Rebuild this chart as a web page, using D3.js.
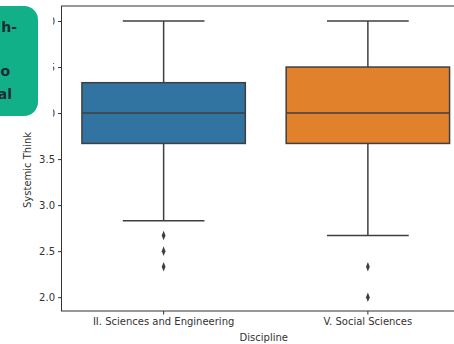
<!DOCTYPE html>
<html><head><meta charset="utf-8">
<script src="https://cdn.jsdelivr.net/npm/d3@7"></script>
<style>body{margin:0;background:#fff}svg{display:block}text{font-family:"DejaVu Sans",sans-serif}</style>
</head><body><svg id="c" width="454" height="344"></svg>
<script>
const categories = ["II. Sciences and Engineering", "V. Social Sciences"];
const q1 = [3.67, 3.67];
const median = [4.0, 4.0];
const q3 = [4.33, 4.5];
const whiskerLow = [2.83, 2.67];
const whiskerHigh = [5.0, 5.0];
const outliers = [[2.67, 2.5, 2.33], [2.33, 2.0]];
const yTicks = [2.0, 2.5, 3.0, 3.5, 4.0, 4.5, 5.0];
const colors = ["#3274a1", "#e1812c"];

(function () {
const svg = d3.select("#c");
const mL = 61.5, mR = 470, mT = 6, mB = 311;
const x = d3.scaleBand().domain(categories).range([mL, mR]).paddingInner(0.2).paddingOuter(0.1);
const y = d3.scaleLinear().domain([1.85, 5.163]).range([mB, mT]);
const bw = x.bandwidth();
const line = "#3f3f3f";

const g = svg.append("g");
categories.forEach((c, i) => {
  const cx = x(c) + bw / 2;
  g.append("line").attr("x1", cx).attr("x2", cx).attr("y1", y(q3[i])).attr("y2", y(whiskerHigh[i])).attr("stroke", line).attr("stroke-width", 1.5);
  g.append("line").attr("x1", cx).attr("x2", cx).attr("y1", y(q1[i])).attr("y2", y(whiskerLow[i])).attr("stroke", line).attr("stroke-width", 1.5);
  [whiskerHigh[i], whiskerLow[i]].forEach(v => {
    g.append("line").attr("x1", cx - bw / 4).attr("x2", cx + bw / 4).attr("y1", y(v)).attr("y2", y(v)).attr("stroke", line).attr("stroke-width", 1.5);
  });
  g.append("rect").attr("x", x(c)).attr("width", bw).attr("y", y(q3[i])).attr("height", y(q1[i]) - y(q3[i]))
    .attr("fill", colors[i]).attr("stroke", line).attr("stroke-width", 1.5);
  g.append("line").attr("x1", x(c)).attr("x2", x(c) + bw).attr("y1", y(median[i])).attr("y2", y(median[i])).attr("stroke", line).attr("stroke-width", 1.5);
  outliers[i].forEach(v => {
    g.append("path").attr("d", d3.symbol(d3.symbolDiamond, 22)()).attr("transform", `translate(${cx},${y(v)}) scale(0.75,1.1)`).attr("fill", line);
  });
});

const yAxis = svg.append("g").attr("transform", `translate(${mL},0)`)
  .call(d3.axisLeft(y).tickValues(yTicks).tickFormat(d3.format(".1f")).tickSize(3.5).tickPadding(3));
yAxis.select(".domain").remove();
yAxis.selectAll("text").attr("font-size", 10).attr("fill", "#333");
yAxis.selectAll("line").attr("stroke", "#333");

const xAxis = svg.append("g").attr("transform", `translate(0,${mB})`)
  .call(d3.axisBottom(x).tickSize(3.5).tickPadding(3));
xAxis.select(".domain").remove();
xAxis.selectAll("text").attr("font-size", 10).attr("fill", "#333");
xAxis.selectAll("line").attr("stroke", "#333");

svg.append("rect").attr("x", mL).attr("y", mT).attr("width", mR - mL).attr("height", mB - mT)
  .attr("fill", "none").attr("stroke", "#333").attr("stroke-width", 1);

svg.append("text").attr("x", (mL + mR) / 2 - 2).attr("y", 341).attr("text-anchor", "middle").attr("font-size", 10).attr("fill", "#333").text("Discipline");
svg.append("text").attr("transform", `translate(31,208) rotate(-90)`).attr("text-anchor", "start").attr("font-size", 10).attr("fill", "#333").text("Systemic Thinking");

svg.append("rect").attr("x", 0).attr("y", 0).attr("width", 53).attr("height", 131).attr("fill", "#fff");
svg.append("rect").attr("x", -20).attr("y", 6).attr("width", 58).attr("height", 110).attr("rx", 14).attr("fill", "#12b088");
const callout = [["h-", 27, 17], ["o", 71, 10], ["al", 94, 12]];
callout.forEach(([t, yy, xe]) => {
  svg.append("text").attr("x", xe).attr("y", yy + 5).attr("text-anchor", "end").attr("font-family", "Lato, sans-serif").attr("font-weight", "bold").attr("font-size", 14).attr("fill", "#1f2d33").text(t);
});
})();
</script></body></html>
